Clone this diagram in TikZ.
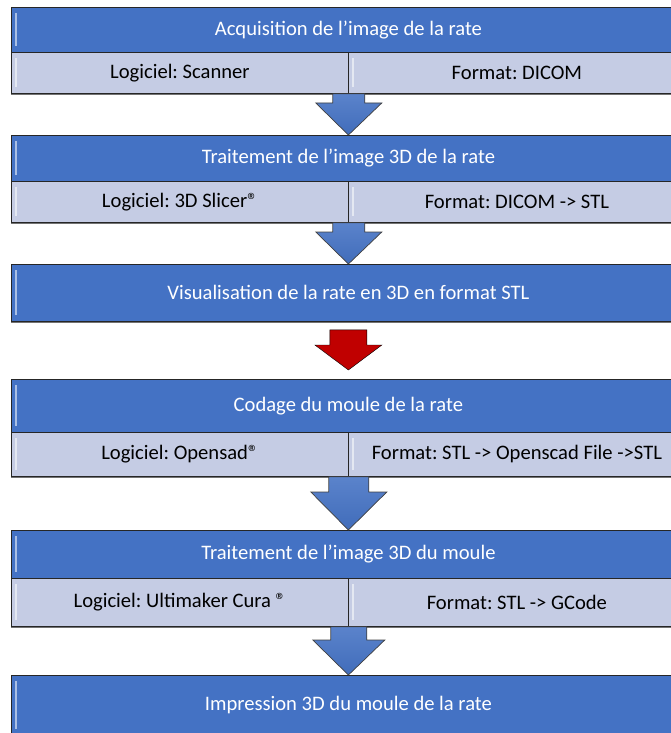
\documentclass[tikz,border=0pt]{standalone}
\usepackage{fontspec}
\setmainfont{Carlito}
\usetikzlibrary{calc, shadows}
\definecolor{headblue}{HTML}{4472C4}
\definecolor{rowblue}{HTML}{C5CCE4}
\definecolor{arrowblue}{HTML}{4472C4}
\definecolor{darkred}{HTML}{C00000}
\frenchspacing

\begin{document}
\begin{tikzpicture}[x=1pt, y=-1pt,
				box/.style={draw=black!85, line width=0.8pt, anchor=north west, inner sep=0pt,
				font=\fontsize{20.6}{24}\selectfont,
				drop shadow={shadow xshift=0pt, shadow yshift=-2pt, fill=black!55, opacity=1},
				path picture={\draw[white, opacity=0.55, line width=2pt]
					([xshift=5pt,yshift=-6pt]path picture bounding box.north west) --
					([xshift=5pt,yshift=6pt]path picture bounding box.south west);}},
				header/.style={box, fill=headblue, text=white, minimum width=674pt},
				cell/.style={box, fill=rowblue, text=black, minimum width=337pt, minimum height=41pt},
				blockarrow/.style n args={3}{to path={let \p1=(\tikztostart), \p2=(\tikztotarget) in
					(\x1-#2,\y1) -- (\x1-#2,\y2+#3) -- (\x1-#1,\y2+#3) -- (\x2,\y2) --
					(\x1+#1,\y2+#3) -- (\x1+#2,\y2+#3) -- (\x1+#2,\y1) -- cycle}},
				bluearrow/.style={draw=black!75, line width=0.7pt, top color=arrowblue!88!white, bottom color=arrowblue!95!black},
				redarrow/.style={fill=darkred}]
				\clip (0,0) rectangle (671,733);
				\node[header, minimum height=45pt] (h1) at (11,7) {Acquisition de l’image de la rate};
				\node[cell] (r1a) at (11,52) {Logiciel: Scanner};
				\node[cell] (r1b) at (348,52) {Format: DICOM};
				\node[header, minimum height=46pt] (h2) at (11,135) {Traitement de l’image 3D de la rate};
				\node[cell] (r2a) at (11,181) {Logiciel: 3D Slicer®};
				\node[cell] (r2b) at (348,181) {Format: DICOM -> STL};
				\node[header, minimum height=57pt] (h3) at (11,264) {Visualisation de la rate en 3D en format STL};
				\node[header, minimum height=53pt] (h4) at (11,379) {Codage du moule de la rate};
				\node[cell, minimum height=44pt] (r4a) at (11,432) {Logiciel: Opensad®};
				\node[cell, minimum height=44pt] (r4b) at (348,432) {Format: STL -> Openscad File ->STL};
				\node[header, minimum height=48pt] (h5) at (11,530) {Traitement de l’image 3D du moule};
				\node[cell, minimum height=48pt] (r5a) at (11,578) {Logiciel: Ultimaker Cura ®};
				\node[cell, minimum height=48pt] (r5b) at (348,578) {Format: STL -> GCode};
				\node[header, minimum height=60pt] (h6) at (11,675) {Impression 3D du moule de la rate};
				\draw[bluearrow] (r1a.south east) to[blockarrow={33}{16}{32}] (h2.north);
				\draw[bluearrow] (r2a.south east) to[blockarrow={33}{16}{32}] (h3.north);
				\draw[redarrow] ($(h3.south)+(0,8)$) to[blockarrow={33.5}{18.5}{25}] ($(h4.north)+(0,-9)$);
				\draw[bluearrow] (r4a.south east) to[blockarrow={38}{20}{38}] (h5.north);
				\draw[bluearrow] (r5a.south east) to[blockarrow={36}{18}{35}] (h6.north);
			\end{tikzpicture}
\end{document}
